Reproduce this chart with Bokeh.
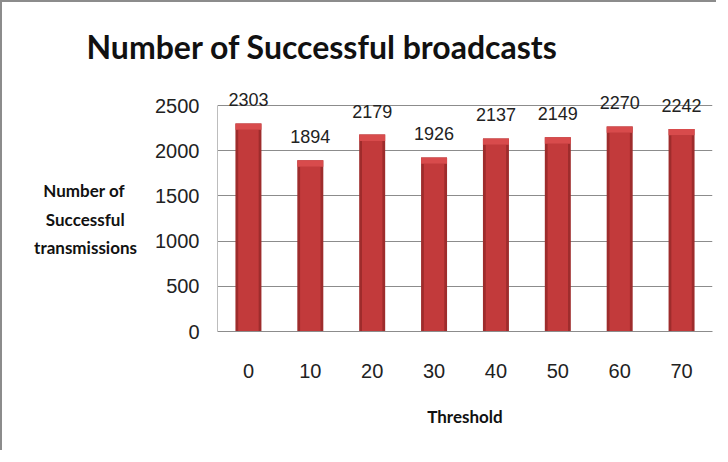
from bokeh.plotting import figure
from bokeh.models import ColumnDataSource, LabelSet, Range1d, FixedTicker
from bokeh.core.properties import value
from bokeh.embed import file_html
from bokeh.resources import INLINE

# ---- data ----
thresholds = ["0", "10", "20", "30", "40", "50", "60", "70"]
broadcasts = [2303, 1894, 2179, 1926, 2137, 2149, 2270, 2242]
y_ticks = [0, 500, 1000, 1500, 2000, 2500]
title_text = "Number of Successful broadcasts"
x_label = "Threshold"
y_label_lines = ["Number of", "Successful", "transmissions"]

CAP = 70  # bevel depth (style)
src = ColumnDataSource(dict(
    x=thresholds,
    y=broadcasts,
    ycap=[v - CAP for v in broadcasts],
    lbl=[str(v) for v in broadcasts],
))

p = figure(
    x_range=thresholds, y_range=Range1d(0, 2800),
    width=716, height=450,
    output_backend="svg", toolbar_location=None,
    min_border_left=215, min_border_right=6,
    min_border_top=76, min_border_bottom=121,
)
p.styles = {"border-left": "2px solid #8c8c8c", "border-top": "2px solid #8c8c8c"}
p.outline_line_color = None

# title
p.title.text = title_text
p.title.text_font = "Lato"
p.title.text_font_style = "bold"
p.title.text_font_size = "32px"
p.title.text_color = "#111111"
p.title.align = "left"
p.title.offset = -131
p.title.standoff = 25

# bars (layered for bevel look)
p.vbar(x="x", top="y", bottom=0, width=0.42, source=src,
       fill_color="#9e2c2c", line_color=None)
p.vbar(x="x", top="ycap", bottom=0, width=0.33, source=src,
       fill_color="#c23a3b", line_color=None)
p.vbar(x="x", top="y", bottom="ycap", width=0.42, source=src,
       fill_color="#d84b4c", line_color=None)

labels = LabelSet(x="x", y="y", text="lbl", source=src, y_offset=17,
                  text_align="center", text_baseline="alphabetic",
                  text_font=value("Liberation Sans"), text_font_size=value("18px"),
                  text_color="#222222")
p.add_layout(labels)

# axes
nb = "\u00a0"
pad = [nb * 3, nb * 3, ""]
y_label = "\n".join([nb] + [t + s for t, s in zip(y_label_lines, pad)])

p.yaxis.ticker = FixedTicker(ticks=y_ticks)
p.yaxis.bounds = (0, 2500)
p.yaxis.major_tick_line_color = None
p.yaxis.minor_tick_line_color = None
p.yaxis.axis_line_color = "#bdbdbd"
p.yaxis.major_label_text_font = "Liberation Sans"
p.yaxis.major_label_text_font_size = "20px"
p.yaxis.major_label_text_color = "#222222"
p.yaxis.major_label_standoff = 12
p.yaxis.axis_label = y_label
p.yaxis.axis_label_orientation = "horizontal"
p.yaxis.axis_label_text_font = "Lato"
p.yaxis.axis_label_text_font_style = "bold"
p.yaxis.axis_label_text_font_size = "17px"
p.yaxis.axis_label_text_line_height = 1.35
p.yaxis.axis_label_text_color = "#111111"
p.yaxis.axis_label_standoff = 15

p.xaxis.major_tick_line_color = None
p.xaxis.minor_tick_line_color = None
p.xaxis.axis_line_color = "#8c8c8c"
p.xaxis.major_label_text_font = "Liberation Sans"
p.xaxis.major_label_text_font_size = "20px"
p.xaxis.major_label_text_color = "#222222"
p.xaxis.major_label_standoff = 26
p.xaxis.axis_label = x_label
p.xaxis.axis_label_text_font = "Lato"
p.xaxis.axis_label_text_font_style = "bold"
p.xaxis.axis_label_text_font_size = "17px"
p.xaxis.axis_label_text_color = "#111111"
p.xaxis.axis_label_standoff = 25

p.xgrid.grid_line_color = None
p.ygrid.grid_line_color = "#8c8c8c"
p.ygrid.grid_line_width = 1

open("out.html", "w").write(file_html(p, INLINE))
